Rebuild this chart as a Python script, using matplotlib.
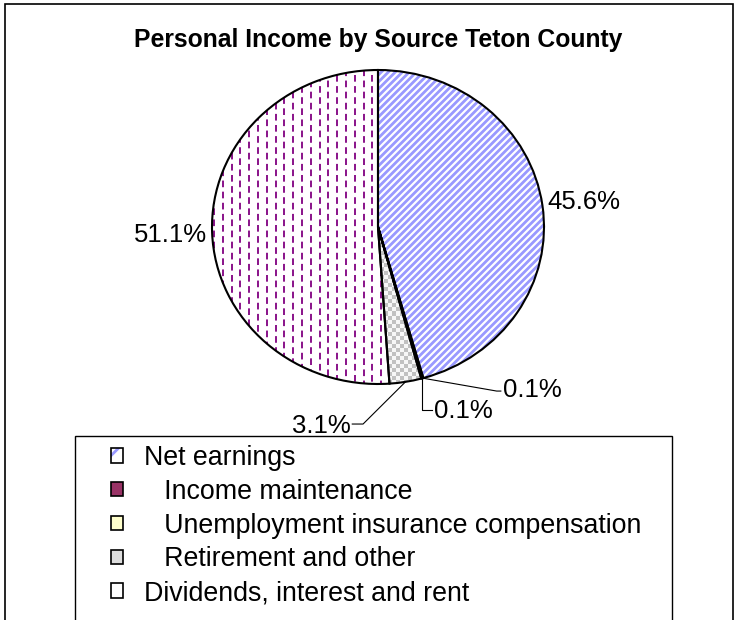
""" personal income by source, Teton County - pie with patterned slices """
import numpy as np
import matplotlib
matplotlib.use('Agg')
from matplotlib import pyplot as plt
from matplotlib.patches import Wedge, Patch, Rectangle
from matplotlib.collections import LineCollection

categories = ['Net earnings', 'Income maintenance',
              'Unemployment insurance compensation',
              'Retirement and other', 'Dividends, interest and rent']
shares = [45.6, 0.1, 0.1, 3.1, 51.1]
indented = [False, True, True, True, False]
title = 'Personal Income by Source Teton County'

plt.rcParams['font.family'] = ['Liberation Sans', 'DejaVu Sans']
plt.rcParams['hatch.linewidth'] = 2.0
plt.rcParams['lines.scale_dashes'] = False

W, H = 740, 620
fig = plt.figure(figsize=(W / 100, H / 100), dpi=100)

# pie centre / radii in pixels (source picture is a little stretched sideways)
cx, cy, rx, ry = 378, 227, 166, 157
m = 1.1
ax = fig.add_axes([(cx - m * rx) / W, (H - cy - m * ry) / H,
                   2 * m * rx / W, 2 * m * ry / H])

fills = ['white', '#993366', '#FFFFCC', 'white', 'white']
wedges, _ = ax.pie(shares, colors=fills, startangle=90, counterclock=False,
                   wedgeprops=dict(linewidth=0, edgecolor='none'))
ax.set_aspect('auto')

# diagonal blue stripes on net earnings
k = rx / ry
step = 7 / rx
segs = [[(c - 1.3, -1.3 * k), (c + 1.3, 1.3 * k)] for c in np.arange(-2.6, 2.6, step)]
stripes = LineCollection(segs, colors='#9999FF', linewidths=2.0, zorder=2)
ax.add_collection(stripes)
stripes.set_clip_path(wedges[0])

# dashed purple columns on dividends
colx = np.arange(-1.2, 1.2, 8.8 / rx)
for j, off in enumerate([0, 4.0]):
    segs = [[(x, -1.2), (x, 1.2)] for x in colx[j::2]]
    dashes = LineCollection(segs, colors='#800080', linewidths=1.3,
                            linestyles=[(off, (4.8, 3.2))], zorder=2)
    ax.add_collection(dashes)
    dashes.set_clip_path(wedges[4])

# checkerboard on retirement
nx, ny = int(2 * m * rx / 4), int(2 * m * ry / 4)
chk = np.add.outer(np.arange(ny), np.arange(nx)) % 2
img = np.where(chk[..., None] == 1, 0.76, 0.97) * np.ones(3)
im = ax.imshow(img, extent=(-m, m, -m, m), aspect='auto',
               interpolation='nearest', zorder=1.5)
im.set_clip_path(wedges[3])

for w in wedges:
    ax.add_patch(Wedge(w.center, w.r, w.theta1, w.theta2, fill=False,
                       edgecolor='black', linewidth=1.5, zorder=3))
ax.set_xlim(-m, m)
ax.set_ylim(-m, m)
ax.axis('off')

# percentage labels, leader lines for the thin slices
label_xy = [(1.018, 0.16), (0.755, -1.04), (0.34, -1.17), (-0.165, -1.27), (-1.03, -0.05)]
label_ha = ['left', 'left', 'left', 'right', 'right']
leader = {1: [(0.715, -1.045), (0.74, -1.045)],
          2: [None, (0.327, -1.166)],
          3: [(-0.09, -1.255), (-0.155, -1.255)]}
for i, w in enumerate(wedges):
    ax.text(*label_xy[i], f'{shares[i]:.1f}%', ha=label_ha[i], va='center',
            fontsize=18.5, clip_on=False)
    if i in leader:
        mid = np.deg2rad((w.theta1 + w.theta2) / 2)
        ax0, ay0 = np.cos(mid), np.sin(mid)
        p1, p2 = leader[i]
        if p1 is None:
            p1 = (ax0, p2[1])
        xs, ys = zip((ax0, ay0), p1, p2)
        ax.plot(xs, ys, color='black', lw=0.8, clip_on=False, zorder=4)

fig.text(cx / W, 1 - 40 / H, title, ha='center', va='center',
         fontsize=17.8, weight='bold')

# legend
handles = [
    (Patch(facecolor='white', edgecolor='#9999FF', hatch='/', lw=0),
     Patch(fill=False, edgecolor='black', lw=1.2)),
    Patch(facecolor='#993366', edgecolor='black', lw=1.2),
    Patch(facecolor='#FFFFCC', edgecolor='black', lw=1.2),
    Patch(facecolor='#DDDDDD', edgecolor='black', lw=1.2),
    (Patch(facecolor='white', edgecolor='#800080', hatch='|', lw=0),
     Patch(fill=False, edgecolor='black', lw=1.2)),
]
labels = [('  \u2009' + c if ind else c) for c, ind in zip(categories, indented)]
fig.legend(handles, labels, loc='upper left',
           bbox_to_anchor=(111 / W, 1 - 445 / H), frameon=False,
           fontsize=19.3, handlelength=0.45, handleheight=0.45,
           handletextpad=0.78, labelspacing=0.29, borderpad=0,
           borderaxespad=0)

fig.add_artist(Rectangle((75 / W, -0.1), (672 - 75) / W, 0.1 + (H - 436) / H,
                         transform=fig.transFigure, fill=False,
                         edgecolor='black', lw=1.0))
fig.add_artist(Rectangle((5 / W, -0.1), (733 - 5) / W, 0.1 + (H - 4) / H,
                         transform=fig.transFigure, fill=False,
                         edgecolor='black', lw=1.2))

fig.savefig('out.png', dpi=100)
